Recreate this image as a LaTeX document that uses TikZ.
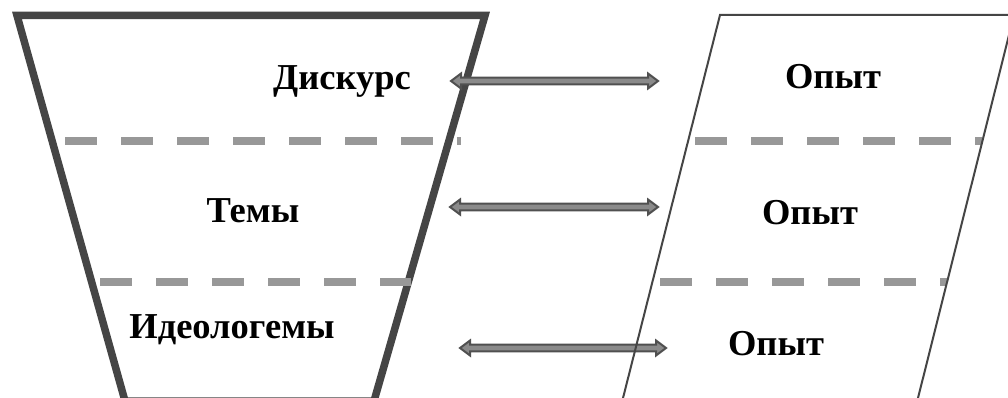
\documentclass[tikz,border=0pt]{standalone}
\usepackage{fontspec}
\setmainfont{Liberation Serif}
\usetikzlibrary{calc}
\definecolor{framegray}{HTML}{454545}
\definecolor{dashgray}{HTML}{989898}
\definecolor{arrowline}{HTML}{505050}
\definecolor{arrowfill}{HTML}{8A8A8A}
\tikzset{
  funnel/.style={draw=framegray, line width=7.5pt, line join=miter},
  slant/.style={draw=framegray, line width=2pt},
  divider/.style={draw=dashgray, line width=8pt, dash pattern=on 32pt off 24pt},
  lbl/.style={font=\fontsize{36.5}{40}\selectfont\bfseries, inner sep=0pt, anchor=base},
  dblarrow/.style={draw=arrowline, fill=arrowfill, line width=2pt, line join=miter},
}
\begin{document}
\begin{tikzpicture}[x=1pt,y=-1pt]
\useasboundingbox (0,0) rectangle (1008,398);
\clip (0,0) rectangle (1008,398);
% funnel
\draw[funnel] (17,15.5) -- (485,15.5) -- (374,401) -- (125,401) -- cycle;
% left dividers
\draw[divider] (65,141.5) -- (461,141.5);
\draw[divider] (100,281.5) -- (411,281.5);
% arrow end points
\coordinate (a1) at (451,81);  \coordinate (b1) at (658,81);
\coordinate (a2) at (450,207); \coordinate (b2) at (658,207);
\coordinate (a3) at (460,348); \coordinate (b3) at (666,348);
\foreach \i in {1,2,3}{
  \draw[dblarrow] let \p1=(a\i), \p2=(b\i) in
    (\x1,\y1) -- (\x1+10pt,\y1+7.5pt) -- (\x1+10pt,\y1+3.4pt) -- (\x2-10pt,\y1+3.4pt)
    -- (\x2-10pt,\y1+7.5pt) -- (\x2,\y1) -- (\x2-10pt,\y1-7.5pt) -- (\x2-10pt,\y1-3.4pt)
    -- (\x1+10pt,\y1-3.4pt) -- (\x1+10pt,\y1-7.5pt) -- cycle;
}
% right dividers
\draw[divider] (695,141.5) -- (982,141.5);
\draw[divider] (660,281.5) -- (947,281.5);
% slanted frame
\draw[slant] (622,402) -- (720,15) -- (1016,15);
\draw[slant] (1014,15) -- (917,402);
% labels
\node[lbl] (diskurs) at (342,90) {Дискурс};
\node[lbl] (temy) at (253,222) {Темы};
\node[lbl] (ideo) at (232,338) {Идеологемы};
\node[lbl] (opyt1) at (833,89) {Опыт};
\node[lbl] (opyt2) at (810,224) {Опыт};
\node[lbl] (opyt3) at (776,355) {Опыт};
\end{tikzpicture}
\end{document}
